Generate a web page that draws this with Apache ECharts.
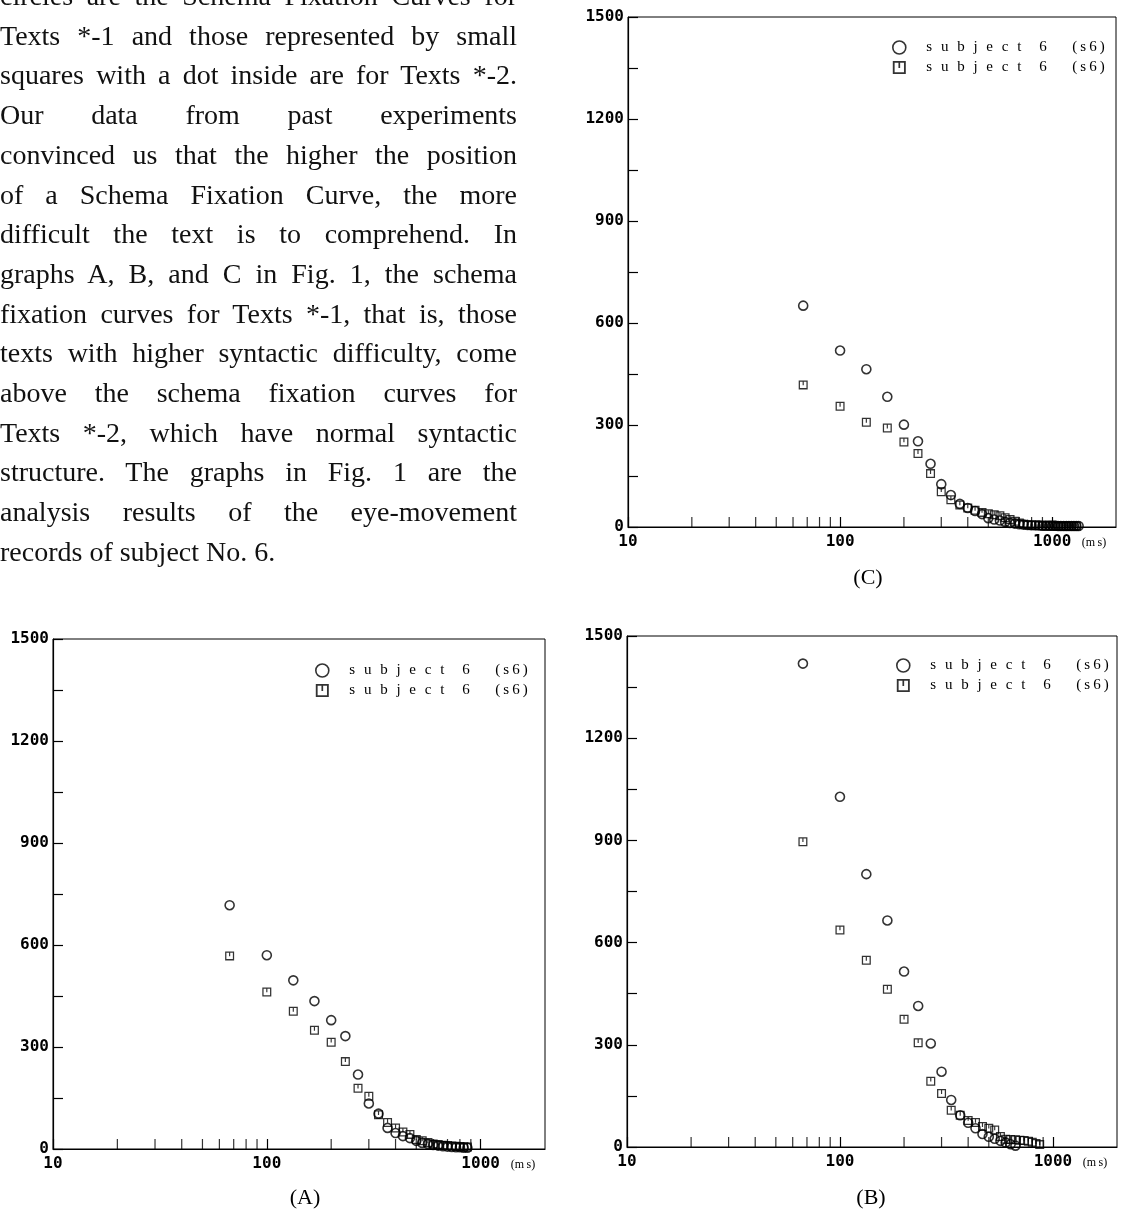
<!DOCTYPE html>
<html>
<head>
<meta charset="utf-8">
<title>Schema Fixation Curves</title>
<script src="https://cdn.jsdelivr.net/npm/echarts@6/dist/echarts.min.js"></script>
<style>
  body, html { margin: 0; padding: 0; background: #fff; overflow: hidden; }
  #main { position: absolute; left: 0; top: 0; width: 1125px; height: 1211px; }
  #para {
    position: absolute; left: 0; top: -24px; width: 517px;
    font-family: "Liberation Serif", serif; font-size: 28px; line-height: 39.7px;
    color: #111; z-index: 2;
  }
  #para div { text-align: justify; text-align-last: justify; }
  #para div.last { text-align-last: left; }
</style>
</head>
<body>
<div id="main"></div>
<div id="para">
  <div>circles are the Schema Fixation Curves for</div>
  <div>Texts *-1 and those represented by small</div>
  <div>squares with a dot inside are for Texts *-2.</div>
  <div>Our data from past experiments</div>
  <div>convinced us that the higher the position</div>
  <div>of a Schema Fixation Curve, the more</div>
  <div>difficult the text is to comprehend. In</div>
  <div>graphs A, B, and C in Fig. 1, the schema</div>
  <div>fixation curves for Texts *-1, that is, those</div>
  <div>texts with higher syntactic difficulty, come</div>
  <div>above the schema fixation curves for</div>
  <div>Texts *-2, which have normal syntactic</div>
  <div>structure. The graphs in Fig. 1 are the</div>
  <div>analysis results of the eye-movement</div>
  <div class="last">records of subject No. 6.</div>
</div>
<script>
// fixation durations (ms), one step per video frame
const frameMs = [67, 100, 133, 167, 200, 233, 267, 300, 333, 367, 400, 433, 467, 500, 533, 567, 600, 633, 667, 700,
  733, 767, 800, 833, 867, 900, 933, 967, 1000, 1033, 1067, 1100, 1133, 1167, 1200, 1233, 1267, 1300, 1333];

// graph A
const circlesA = [717, 570, 496, 435, 379, 332, 219, 134, 104, 62, 47, 38, 32, 24, 18, 15, 12, 10, 8, 7, 6, 5, 5, 4, 4];
const squaresA = [568, 462, 405, 349, 314, 257, 179, 155, 101, 78, 62, 50, 43, 28, 24, 19, 15, 13, 11, 10, 9, 8, 7, 6, 6];
// graph B
const circlesB = [1419, 1028, 801, 665, 515, 414, 304, 221, 138, 93, 71, 55, 38, 30, 24, 18, 13, 8, 4];
const squaresB = [896, 637, 548, 463, 375, 306, 193, 157, 108, 93, 78, 72, 60, 55, 50, 31, 23, 22, 21, 20, 19, 17, 14, 10, 7];
// graph C
const circlesC = [651, 519, 464, 383, 301, 252, 186, 126, 94, 68, 56, 47, 38, 26, 22, 19, 15, 12, 10, 8, 7, 6, 5, 5, 5,
  4, 4, 4, 4, 4, 3, 3, 3, 3, 3, 3, 3, 3, 3];
const squaresC = [418, 355, 308, 291, 250, 216, 157, 104, 80, 65, 56, 49, 43, 39, 36, 33, 27, 22, 17, 12, 8, 6, 5, 5, 4,
  4, 4, 4, 3, 3, 3, 3, 3, 3, 3, 3, 3, 3];

const minorTicks = [20, 30, 40, 50, 60, 70, 80, 90, 200, 300, 400, 500, 600, 700, 800, 900];
const xTickLabels = [10, 100, 1000];
const yTickLabels = [0, 300, 600, 900, 1200, 1500];
const legendName = 'subject 6 (s6)';

const squareIcon = 'path://M0,0H10V10H0Z M1.4,1.4V8.6H8.6V1.4Z M4.35,1.4H5.65V5.4H4.35Z';

const panels = [
  { grid: { left: 53, top: 639, width: 492, height: 510 }, circles: circlesA, squares: squaresA,
    caption: '(A)', capPos: [305, 1198], legendPos: [321, 658] },
  { grid: { left: 627, top: 636, width: 490, height: 511 }, circles: circlesB, squares: squaresB,
    caption: '(B)', capPos: [871, 1198], legendPos: [902, 653] },
  { grid: { left: 628, top: 17, width: 488, height: 510 }, circles: circlesC, squares: squaresC,
    caption: '(C)', capPos: [868, 578], legendPos: [898, 35] }
];

function pair(vals) {
  return vals.map((v, i) => [frameMs[i], v]);
}

function spaced(name) {
  // wide letter spacing as printed in the figure legend
  const parts = name.split(' ');
  return parts[0].split('').join('\u2002\u200A') + '\u2002\u2002\u2009' + parts[1] + '\u2002\u2002\u2002\u2009' +
    parts[2].split('').join('\u2009');
}

const monoLabel = { fontFamily: 'DejaVu Sans Mono', fontSize: 16, fontWeight: 'bold', color: '#000' };

const option = {
  animation: false,
  backgroundColor: '#fff',
  grid: panels.map(p => Object.assign({ containLabel: false, show: true, borderColor: '#000', borderWidth: 1 }, p.grid)),
  xAxis: panels.map((p, i) => ({
    type: 'log', logBase: 10, gridIndex: i, min: 10, max: 2000,
    axisLine: { lineStyle: { color: '#000', width: 1.2 } },
    axisTick: { inside: true, length: 10, lineStyle: { color: '#000', width: 1.2 } },
    axisLabel: Object.assign({ margin: 7, showMaxLabel: false,
      formatter: v => xTickLabels.indexOf(Math.round(v)) >= 0 ? String(Math.round(v)) : '' }, monoLabel),
    splitLine: { show: false },
    name: '(m\u2009s)', nameLocation: 'end', nameGap: -22,
    nameTextStyle: { fontFamily: 'Liberation Serif', fontSize: 12, color: '#000',
      align: 'center', verticalAlign: 'top', padding: [10, 0, 0, 0] }
  })),
  yAxis: panels.map((p, i) => ({
    type: 'value', gridIndex: i, min: 0, max: 1500, interval: 150,
    axisLine: { show: true, lineStyle: { color: '#000', width: 1.2 } },
    axisTick: { show: true, inside: true, length: 10, lineStyle: { color: '#000', width: 1.2 } },
    axisLabel: Object.assign({ margin: 4,
      formatter: v => yTickLabels.indexOf(v) >= 0 ? String(v) : '' }, monoLabel),
    splitLine: { show: false }
  })),
  legend: panels.map(p => ({
    left: p.legendPos[0] - 11, top: p.legendPos[1], orient: 'vertical',
    itemWidth: 44, itemHeight: 13, itemGap: 5, selectedMode: false,
    formatter: () => spaced(legendName),
    textStyle: { fontFamily: 'Liberation Serif', fontSize: 15, color: '#000' },
    data: [
      { name: 'Texts *-1', icon: 'circle', itemStyle: { color: 'rgba(0,0,0,0)', borderColor: '#000', borderWidth: 1.6 } },
      { name: 'Texts *-2', icon: squareIcon, itemStyle: { color: '#000', borderWidth: 0 } }
    ]
  })),
  graphic: panels.map(p => ({
    type: 'text', x: p.capPos[0], y: p.capPos[1],
    style: { text: p.caption, fontFamily: 'Liberation Serif', fontSize: 22, fill: '#000',
      align: 'center', verticalAlign: 'middle' }
  })),
  series: []
};

panels.forEach((p, i) => {
  option.series.push({
    type: 'scatter', name: 'ticks', xAxisIndex: i, yAxisIndex: i, silent: true, clip: false,
    symbol: 'rect', symbolSize: [1.2, 10], symbolOffset: [0, -5],
    itemStyle: { color: '#000' }, data: minorTicks.map(v => [v, 0]), z: 1
  });
  option.series.push({
    type: 'scatter', name: 'Texts *-1', xAxisIndex: i, yAxisIndex: i,
    symbol: 'circle', symbolSize: 9,
    itemStyle: { color: 'rgba(0,0,0,0)', borderColor: '#000', borderWidth: 1.6 },
    data: pair(p.circles), z: 3
  });
  option.series.push({
    type: 'scatter', name: 'Texts *-2', xAxisIndex: i, yAxisIndex: i,
    symbol: squareIcon, symbolSize: 9,
    itemStyle: { color: '#000' },
    data: pair(p.squares), z: 2
  });
});

const chart = echarts.init(document.getElementById('main'), null, { renderer: 'canvas' });
chart.setOption(option);
</script>
</body>
</html>
